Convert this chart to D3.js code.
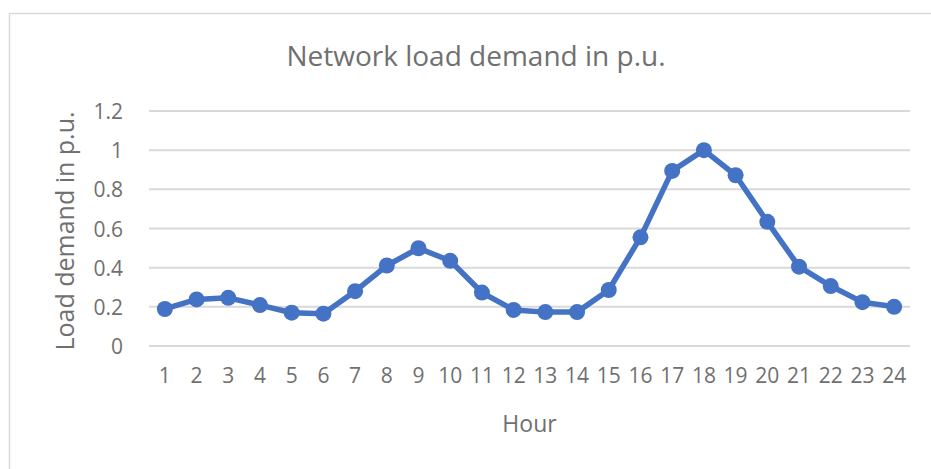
<!DOCTYPE html>
<meta charset="utf-8">
<style>
body { margin: 0; background: #fff; }
svg { display: block; }
text { font-family: "Open Sans", "Noto Sans", sans-serif; fill: #707070; }
.grid line { stroke: #d9d9d9; stroke-width: 2px; }
</style>
<svg width="931" height="469"></svg>
<script src="https://d3js.org/d3.v7.min.js"></script>
<script>

// hourly load demand, p.u.
var hours = d3.range(1, 25);
var load = [0.189, 0.238, 0.246, 0.209, 0.170, 0.165, 0.280, 0.411, 0.499, 0.435,
            0.273, 0.184, 0.173, 0.173, 0.286, 0.555, 0.894, 1.000, 0.872, 0.634,
            0.405, 0.306, 0.224, 0.200];
var yTicks = [0, 0.2, 0.4, 0.6, 0.8, 1, 1.2];

var svg = d3.select("svg");

// chart area outline
svg.append("rect")
    .attr("x", 9.5).attr("y", 13.5)
    .attr("width", 940).attr("height", 470)
    .attr("fill", "none")
    .attr("stroke", "#d9d9d9")
    .attr("stroke-width", 1.5);

var plotL = 149, plotR = 910, plotT = 111, plotB = 346;

var x = d3.scaleBand().domain(hours).range([plotL, plotR]);
var y = d3.scaleLinear().domain([0, 1.2]).range([plotB, plotT]);

svg.append("g")
    .attr("class", "grid")
  .selectAll("line")
  .data(yTicks)
  .enter().append("line")
    .attr("x1", plotL).attr("x2", plotR)
    .attr("y1", function(d) { return y(d); })
    .attr("y2", function(d) { return y(d); });

var yAxis = svg.append("g")
    .attr("transform", "translate(" + (plotL - 26) + ",0)")
    .call(d3.axisLeft(y).tickValues(yTicks).tickSize(0).tickPadding(0)
      .tickFormat(function(d) { return String(d); }));
yAxis.select(".domain").remove();
yAxis.selectAll("text")
    .style("font-size", "21px")
    .attr("dy", "0.36em")
    .attr("fill", "#707070");

var xAxis = svg.append("g")
    .attr("transform", "translate(0," + (plotB + 22) + ")")
    .call(d3.axisBottom(x).tickSize(0).tickPadding(0));
xAxis.select(".domain").remove();
xAxis.selectAll("text")
    .style("font-size", "21px")
    .attr("dy", "0.71em")
    .attr("fill", "#707070");

svg.append("text")
    .attr("x", 476).attr("y", 66)
    .attr("text-anchor", "middle")
    .style("font-size", "28px")
    .text("Network load demand in p.u.");

svg.append("text")
    .attr("x", (plotL + plotR) / 2).attr("y", 432)
    .attr("text-anchor", "middle")
    .style("font-size", "23px")
    .text("Hour");

svg.append("text")
    .attr("transform", "translate(74," + 231 + ") rotate(-90)")
    .attr("text-anchor", "middle")
    .style("font-size", "25px")
    .text("Load demand in p.u.");

var cx = function(d, i) { return x(hours[i]) + x.bandwidth() / 2; };

var line = d3.line()
    .x(cx)
    .y(function(d) { return y(d); });

svg.append("path")
    .datum(load)
    .attr("fill", "none")
    .attr("stroke", "#4472c4")
    .attr("stroke-width", 5.5)
    .attr("stroke-linejoin", "round")
    .attr("d", line);

svg.append("g")
  .selectAll("circle")
  .data(load)
  .enter().append("circle")
    .attr("cx", cx)
    .attr("cy", function(d) { return y(d); })
    .attr("r", 8)
    .attr("fill", "#4472c4");

</script>
